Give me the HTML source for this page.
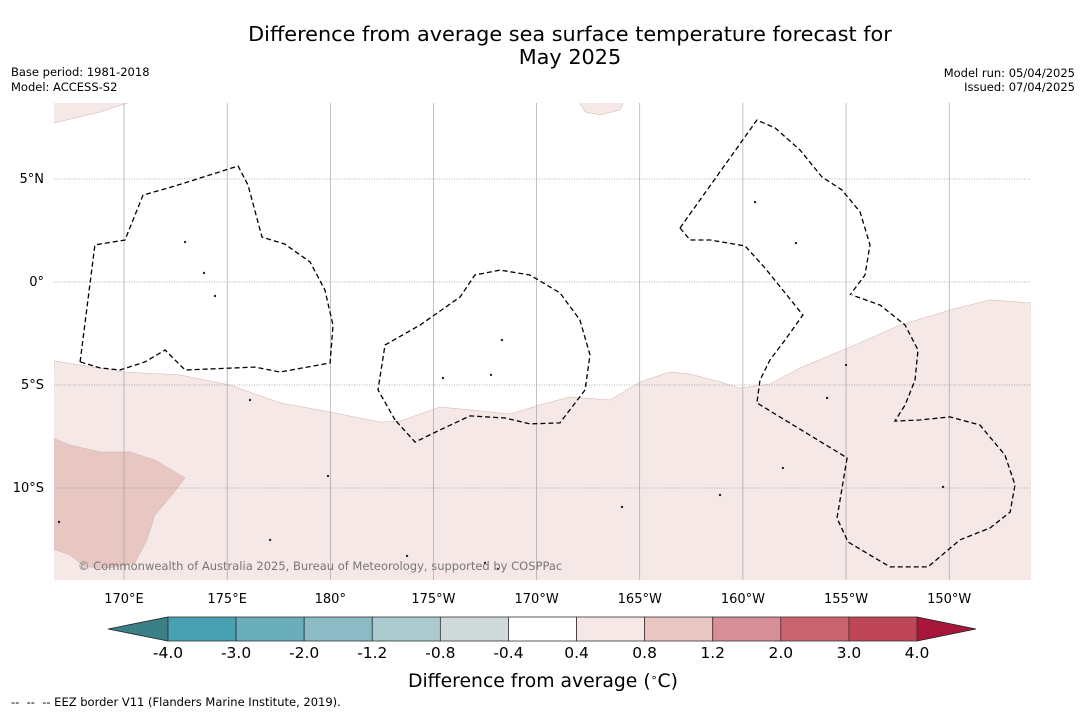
<!DOCTYPE html>
<html><head><meta charset="utf-8"><style>
body{margin:0;background:#fff;}
svg{display:block;font-family:"DejaVu Sans","Liberation Sans",sans-serif;}
</style></head><body>
<svg id="s" width="1085" height="713" viewBox="0 0 1085 713">
<text x="570" y="41" font-size="20.8" text-anchor="middle">Difference from average sea surface temperature forecast for</text>
<text x="570" y="64" font-size="20.8" text-anchor="middle">May 2025</text>
<text x="11" y="76" font-size="11.5">Base period: 1981-2018</text>
<text x="11" y="91" font-size="11.5">Model: ACCESS-S2</text>
<text x="1075" y="77" font-size="11.5" text-anchor="end">Model run: 05/04/2025</text>
<text x="1075" y="91" font-size="11.5" text-anchor="end">Issued: 07/04/2025</text>
<g id="map"></g>
<g id="cbar"></g>
<text x="543" y="687" font-size="18.8" text-anchor="middle">Difference from average (<tspan baseline-shift="super" font-size="11">∘</tspan>C)</text>
<text x="11" y="706" font-size="11.5">-- &#160;-- &#160;-- EEZ border V11 (Flanders Marine Institute, 2019).</text>
</svg>
<script>
const lonTicks=[170,175,180,185,190,195,200,205,210];
const lonLabels=["170°E","175°E","180°","175°W","170°W","165°W","160°W","155°W","150°W"];
const latTicks=[5,0,-5,-10];
const latLabels=["5°N","0°","5°S","10°S"];
const cbBounds=["-4.0","-3.0","-2.0","-1.2","-0.8","-0.4","0.4","0.8","1.2","2.0","3.0","4.0"];
const cbColors=["#47a1b2","#6aaebb","#8cbbc6","#abcacf","#d1dadb","#ffffff","#f5e8e7","#e8c6c2","#d68f96","#c9646f","#be4656"];
const paleRegion=[[166.61,-3.83],[170,-4.37],[172.71,-4.51],[175.14,-5.0],[177.56,-5.87],[179.99,-6.31],[182.41,-6.80],[183.38,-6.75],[185.32,-6.07],[186.77,-6.21],[188.71,-6.41],[190.16,-5.97],[191.62,-5.58],[193.56,-5.73],[195.01,-4.85],[196.47,-4.37],[197.44,-4.47],[198.89,-4.85],[199.86,-5.15],[201.31,-4.95],[202.77,-4.17],[205.19,-3.16],[207.62,-2.09],[210.04,-1.36],[211.98,-0.87],[213.97,-1.02],[214.2,-14.6],[166.4,-14.6]];
const warmRegion=[[166.4,-7.52],[167.38,-7.91],[168.84,-8.25],[170.29,-8.25],[171.50,-8.64],[172.96,-9.51],[172.33,-10.34],[171.50,-11.31],[171.11,-12.52],[170.53,-13.64],[169.32,-13.88],[168.11,-13.83],[167.38,-13.25],[166.4,-12.91]];
const nwRegion=[[166.4,8.8],[170.53,8.8],[168.84,8.25],[166.4,7.67]];
const northBlob=[[192.01,8.8],[194.28,8.8],[194.04,8.35],[193.07,8.11],[192.35,8.25]];
const eez1=[[167.87,-3.88],[168.59,1.80],[170.05,2.04],[170.92,4.22],[172.47,4.66],[175.53,5.63],[176.01,4.71],[176.69,2.18],[177.80,1.84],[179.02,0.97],[179.74,-0.39],[180.13,-2.09],[179.99,-3.93],[177.56,-4.37],[176.35,-4.13],[172.96,-4.27],[171.99,-3.30],[171.02,-3.88],[169.81,-4.27],[168.84,-4.17],[167.87,-3.88]];
const eez2=[[183.14,-6.70],[182.31,-5.24],[182.65,-3.06],[184.35,-2.09],[186.29,-0.73],[187.01,0.34],[188.23,0.58],[189.68,0.34],[191.13,-0.53],[192.10,-1.84],[192.59,-3.54],[192.35,-5.24],[191.13,-6.84],[189.68,-6.89],[188.47,-6.60],[186.77,-6.50],[185.32,-7.18],[184.11,-7.77],[183.14,-6.70]];
const eez3=[[196.95,2.62],[200.68,7.86],[201.56,7.48],[202.77,6.41],[203.83,5.10],[204.80,4.47],[205.68,3.40],[206.16,1.80],[205.92,0.34],[205.19,-0.63]];
const eez4=[[196.95,2.62],[197.44,2.04],[198.41,2.04],[200.10,1.75],[201.07,0.68],[202.91,-1.60],[202.04,-2.82],[201.31,-3.79],[200.83,-4.76],[200.68,-5.87],[205.05,-8.54],[204.56,-11.46],[205.10,-12.62],[207.13,-13.83],[208.97,-13.83],[210.52,-12.52],[211.98,-11.94],[212.95,-11.17],[213.19,-9.85],[212.70,-8.40],[211.49,-6.94],[210.04,-6.55],[208.58,-6.70],[207.37,-6.75],[207.86,-5.97],[208.34,-4.76],[208.49,-3.30],[207.86,-2.09],[206.65,-1.12],[205.29,-0.63]];
const islands=[[188.32,-2.82],[187.79,-4.51],[185.46,-4.66],[201.94,-9.03],[198.89,-10.34],[209.70,-9.95],[166.85,-11.65],[177.08,-12.52],[183.72,-13.30],[187.50,-13.64],[188.13,-13.93],[194.14,-10.92],[200.59,3.88],[202.57,1.89],[172.96,1.94],[173.88,0.44],[174.41,-0.68],[176.11,-5.73],[179.89,-9.42],[205.00,-4.03],[204.08,-5.63]];

const NS="http://www.w3.org/2000/svg";
const X0=54,X1=1031,Y0=103,Y1=580;
function lx(lon){return 124+(lon-170)*20.63;}
function ly(lat){return 282-lat*20.6;}
function mk(tag,attrs,parent){const e=document.createElementNS(NS,tag);for(const k in attrs)e.setAttribute(k,attrs[k]);parent.appendChild(e);return e;}
function pts(a){return a.map(p=>lx(p[0]).toFixed(1)+","+ly(p[1]).toFixed(1)).join(" ");}
const map=document.getElementById("map");
const cp=mk("clipPath",{id:"clip"},map);mk("rect",{x:X0,y:Y0,width:X1-X0,height:Y1-Y0},cp);
const g=mk("g",{"clip-path":"url(#clip)"},map);
const regions=[[paleRegion,"#f5e8e7","pale-anomaly-region"],[warmRegion,"#e8c6c2","warm-anomaly-region"],[nwRegion,"#f5e8e7","northwest-anomaly-region"],[northBlob,"#f5e8e7","north-anomaly-blob"]];
regions.forEach(r=>{const e=mk("polygon",{points:pts(r[0]),fill:r[1],stroke:"#d0b3b0","stroke-width":0.5},g);

});
lonTicks.forEach((lon,i)=>{const l=mk("line",{x1:lx(lon),x2:lx(lon),y1:Y0,y2:Y1,stroke:"#999","stroke-width":0.6},g);


const t=mk("text",{x:lx(lon),y:603,"font-size":13,"text-anchor":"middle"},map);t.textContent=lonLabels[i];

});
latTicks.forEach((lat,i)=>{const l=mk("line",{x1:X0,x2:X1,y1:ly(lat),y2:ly(lat),stroke:"#666","stroke-width":0.6,"stroke-dasharray":"1,1.5"},g);


const t=mk("text",{x:44,y:ly(lat)+4,"font-size":13,"text-anchor":"end"},map);t.textContent=latLabels[i];

});
[eez1,eez2,eez3,eez4].forEach(a=>{const e=mk("polyline",{points:pts(a),fill:"none",stroke:"#000","stroke-width":1.3,"stroke-dasharray":"5,3"},g);

});
islands.forEach(p=>{const e=mk("circle",{cx:lx(p[0]),cy:ly(p[1]),r:1.2,fill:"#222"},g);

});
const c=mk("text",{x:78,y:570,"font-size":11.5,fill:"#777"},map);c.textContent="© Commonwealth of Australia 2025, Bureau of Meteorology, supported by COSPPac";


const cb=document.getElementById("cbar");
const CX0=168,CX1=917,CY0=617,CY1=641,n=cbColors.length,w=(CX1-CX0)/n;
const lt=mk("polygon",{points:`108,629 ${CX0},${CY0} ${CX0},${CY1}`,fill:"#3b7f87",stroke:"#222","stroke-width":0.8},cb);


const rt=mk("polygon",{points:`976,629 ${CX1},${CY0} ${CX1},${CY1}`,fill:"#a8173a",stroke:"#222","stroke-width":0.8},cb);


cbColors.forEach((col,i)=>{const r=mk("rect",{x:CX0+i*w,y:CY0,width:w,height:CY1-CY0,fill:col,stroke:"#333","stroke-width":0.8},cb);

});
cbBounds.forEach((b,i)=>{const t=mk("text",{x:CX0+i*w,y:658,"font-size":15.5,"text-anchor":"middle"},cb);t.textContent=b;

});
</script>
</body></html>
